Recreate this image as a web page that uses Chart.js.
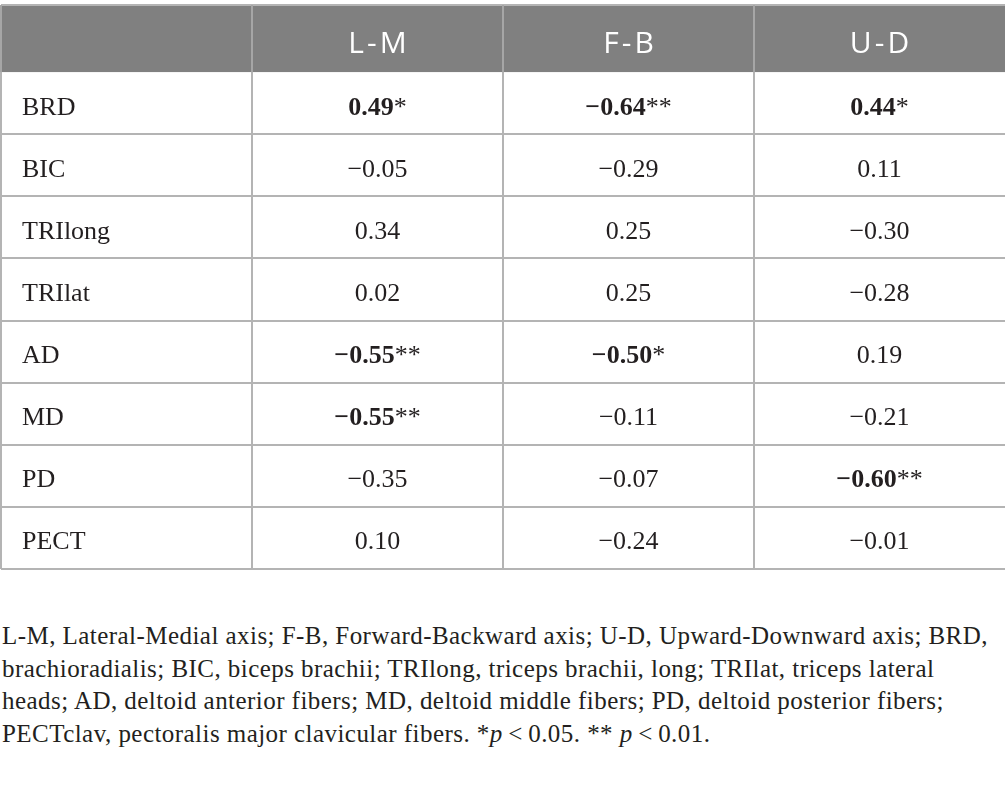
<!DOCTYPE html>
<html>
<head>
<meta charset="utf-8">
<script src="https://cdn.jsdelivr.net/npm/chart.js"></script>
<style>
  body { margin: 0; background: #fff; }
  #wrap { position: relative; width: 1005px; height: 786px; }
  #tbl { position: absolute; left: 0; top: 0; }
  #note {
    position: absolute; left: 2px; top: 620px; width: 1000px;
    font-family: "Liberation Serif", serif; font-size: 25px; line-height: 32.7px;
    letter-spacing: 0.45px; color: #231f20; white-space: nowrap;
  }
</style>
</head>
<body>
<div id="wrap">
  <canvas id="tbl" width="1005" height="572"></canvas>
  <div id="note">
    L-M, Lateral-Medial axis; F-B, Forward-Backward axis; U-D, Upward-Downward axis; BRD,<br>
    brachioradialis; BIC, biceps brachii; TRIlong, triceps brachii, long; TRIlat, triceps lateral<br>
    heads; AD, deltoid anterior fibers; MD, deltoid middle fibers; PD, deltoid posterior fibers;<br>
    PECTclav, pectoralis major clavicular fibers. *<i>p</i>&thinsp;&lt;&thinsp;0.05. ** <i>p</i>&thinsp;&lt;&thinsp;0.01.
  </div>
</div>
<script>
// table contents
var rowLabels = ['BRD', 'BIC', 'TRIlong', 'TRIlat', 'AD', 'MD', 'PD', 'PECT'];
var columnLabels = ['L-M', 'F-B', 'U-D'];

var lmValues = [0.49, -0.05, 0.34, 0.02, -0.55, -0.55, -0.35, 0.10];
var fbValues = [-0.64, -0.29, 0.25, 0.25, -0.50, -0.11, -0.07, -0.24];
var udValues = [0.44, 0.11, -0.30, -0.28, 0.19, -0.21, -0.60, -0.01];

// significance marks (* p<0.05, ** p<0.01), bold when present
var lmStars = ['*', '', '', '', '**', '**', '', ''];
var fbStars = ['**', '', '', '', '*', '', '', ''];
var udStars = ['*', '', '', '', '', '', '**', ''];

var allValues = [lmValues, fbValues, udValues];
var allStars = [lmStars, fbStars, udStars];

function fmt(v) {
  var s = Math.abs(v).toFixed(2);
  return v < 0 ? '\u2212' + s : s;
}

var datasets = columnLabels.map(function (col, c) {
  return {
    label: col,
    data: allValues[c].map(function (v, r) { return { x: c, y: r, v: v, s: allStars[c][r] }; }),
    pointRadius: 0
  };
});

var headerH = 1.08; // header row is a bit taller than body rows

var tablePlugin = {
  id: 'tablePlugin',
  beforeDatasetsDraw: function (chart) {
    var ctx = chart.ctx, a = chart.chartArea;
    var xs = chart.scales.x, ys = chart.scales.y;
    var headBottom = ys.getPixelForValue(-0.5);
    ctx.save();
    // header band
    ctx.fillStyle = '#808080';
    ctx.fillRect(a.left, a.top, a.right - a.left, headBottom - a.top);
    // horizontal rules
    ctx.strokeStyle = '#b4b4b4';
    ctx.lineWidth = 2;
    ctx.beginPath();
    ctx.moveTo(a.left, a.top); ctx.lineTo(a.right, a.top);
    for (var r = 0; r < rowLabels.length; r++) {
      var y = Math.round(ys.getPixelForValue(r + 0.5));
      ctx.moveTo(a.left, y); ctx.lineTo(a.right, y);
    }
    ctx.stroke();
    // vertical rules (no right border)
    for (var c = -1; c < columnLabels.length; c++) {
      var x = Math.round(xs.getPixelForValue(c - 0.5));
      if (c === -1) x = a.left;
      ctx.strokeStyle = '#a6a6a6';
      ctx.beginPath();
      ctx.moveTo(x, a.top); ctx.lineTo(x, headBottom);
      ctx.stroke();
      ctx.strokeStyle = '#b4b4b4';
      ctx.beginPath();
      ctx.moveTo(x, headBottom); ctx.lineTo(x, ys.getPixelForValue(rowLabels.length - 0.5));
      ctx.stroke();
    }
    ctx.restore();
  },
  afterDatasetsDraw: function (chart) {
    var ctx = chart.ctx, a = chart.chartArea;
    var xs = chart.scales.x, ys = chart.scales.y;
    ctx.save();
    // header labels
    ctx.fillStyle = '#ffffff';
    ctx.font = '30px "Open Sans"';
    ctx.textAlign = 'center';
    ctx.textBaseline = 'alphabetic';
    if ('letterSpacing' in ctx) ctx.letterSpacing = '3px';
    var hy = ys.getPixelForValue(-0.5 - headerH / 2) + 14.5;
    columnLabels.forEach(function (col, c) {
      ctx.fillText(col, xs.getPixelForValue(c) + 1.5, hy);
    });
    if ('letterSpacing' in ctx) ctx.letterSpacing = '0px';
    // row labels
    ctx.fillStyle = '#231f20';
    ctx.font = '26px "Liberation Serif"';
    ctx.textAlign = 'left';
    rowLabels.forEach(function (lab, r) {
      ctx.fillText(lab, a.left + 21, ys.getPixelForValue(r) + 11.5);
    });
    // cell values
    chart.data.datasets.forEach(function (ds, di) {
      var meta = chart.getDatasetMeta(di);
      meta.data.forEach(function (pt, i) {
        var d = ds.data[i];
        var num = fmt(d.v);
        var bold = d.s !== '';
        ctx.font = (bold ? 'bold ' : '') + '26px "Liberation Serif"';
        var w1 = ctx.measureText(num).width;
        ctx.font = '26px "Liberation Serif"';
        var w2 = d.s ? ctx.measureText(d.s).width : 0;
        var x0 = pt.x - (w1 + w2) / 2;
        var by = pt.y + 11.5;
        ctx.textAlign = 'left';
        ctx.font = (bold ? 'bold ' : '') + '26px "Liberation Serif"';
        ctx.fillText(num, x0, by);
        if (d.s) {
          ctx.font = '26px "Liberation Serif"';
          ctx.fillText(d.s, x0 + w1, by);
        }
      });
    });
    ctx.restore();
  }
};

new Chart(document.getElementById('tbl'), {
  type: 'scatter',
  data: { datasets: datasets },
  options: {
    responsive: false,
    animation: false,
    layout: { padding: { left: 1, top: 5, right: 0, bottom: 3 } },
    plugins: { legend: { display: false }, tooltip: { enabled: false } },
    scales: {
      x: { type: 'linear', display: false, min: -1.5, max: columnLabels.length - 0.5 },
      y: { type: 'linear', display: false, reverse: true, min: -0.5 - headerH, max: rowLabels.length - 0.5 }
    }
  },
  plugins: [tablePlugin]
});
</script>
</body>
</html>
